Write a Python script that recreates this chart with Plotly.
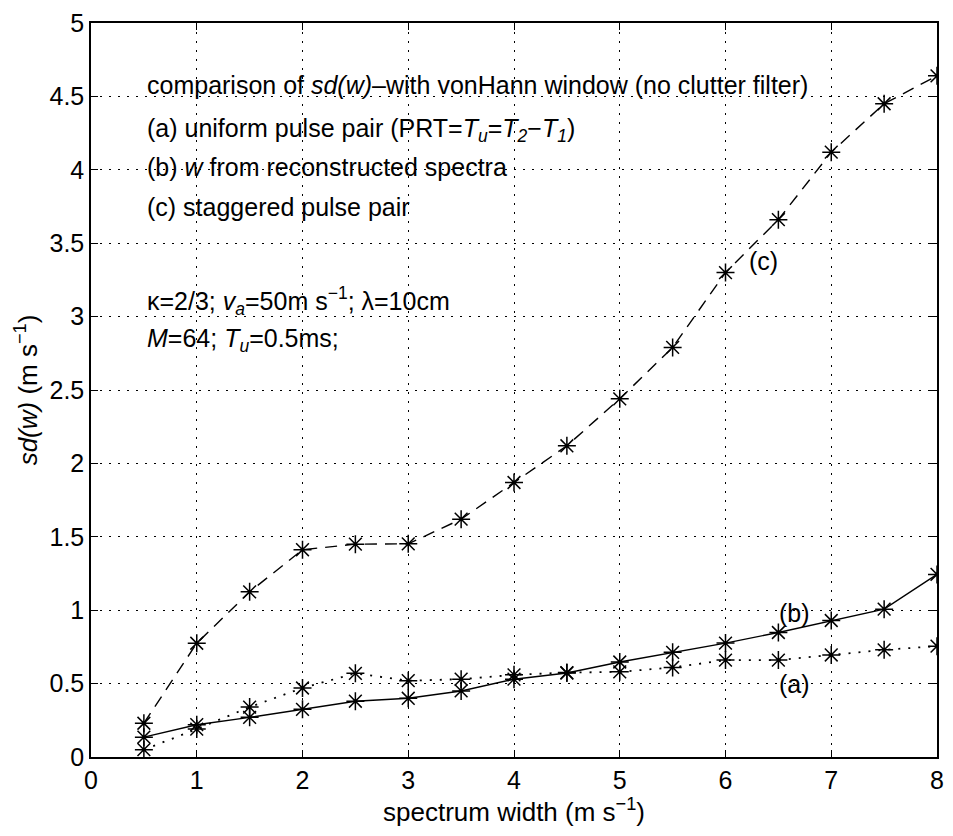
import plotly.graph_objects as go

# Spectrum width values (m s^-1)
width = [0.5, 1, 1.5, 2, 2.5, 3, 3.5, 4, 4.5, 5, 5.5, 6, 6.5, 7, 7.5, 8]

# (a) uniform pulse pair
sd_a = [0.05, 0.19, 0.34, 0.47, 0.57, 0.52, 0.53, 0.56, 0.575, 0.58, 0.61, 0.66, 0.66, 0.695, 0.73, 0.755]
# (b) w from reconstructed spectra
sd_b = [0.135, 0.22, 0.27, 0.325, 0.38, 0.40, 0.45, 0.53, 0.572, 0.647, 0.713, 0.776, 0.848, 0.93, 1.007, 1.244]
# (c) staggered pulse pair
sd_c = [0.23, 0.775, 1.125, 1.412, 1.45, 1.452, 1.62, 1.87, 2.12, 2.44, 2.79, 3.30, 3.66, 4.12, 4.45, 4.64]

x_ticks = [0, 1, 2, 3, 4, 5, 6, 7, 8]
y_ticks = [0, 0.5, 1, 1.5, 2, 2.5, 3, 3.5, 4, 4.5, 5]
y_tick_text = ["0", "0.5", "1", "1.5", "2", "2.5", "3", "3.5", "4", "4.5", "5"]

FONT = "Liberation Sans, Arial, Helvetica, sans-serif"
TXT = 25

fig = go.Figure()

marker = dict(symbol="asterisk-open", size=15, color="black", line=dict(color="black", width=1.5))

fig.add_trace(go.Scatter(x=width, y=sd_a, mode="lines+markers", name="(a)",
                         line=dict(color="black", width=1.8, dash="2px,8px"), marker=marker))
fig.add_trace(go.Scatter(x=width, y=sd_b, mode="lines+markers", name="(b)",
                         line=dict(color="black", width=1.4), marker=marker))
fig.add_trace(go.Scatter(x=width, y=sd_c, mode="lines+markers", name="(c)",
                         line=dict(color="black", width=1.4, dash="12px,8px"), marker=marker))

ann_lines = [
    (4.576, "comparison of <i>sd(w)</i>–with vonHann window (no clutter filter)"),
    (4.27, "(a) uniform pulse pair (PRT=<i>T</i><sub><i>u</i></sub>=<i>T</i><sub><i>2</i></sub>−<i>T</i><sub><i>1</i></sub>)"),
    (4.02, "(b) <i>w</i> from reconstructed spectra"),
    (3.75, "(c) staggered pulse pair"),
    (3.106, "κ=2/3; <i>v</i><sub><i>a</i></sub>=50m s<sup>−1</sup>; λ=10cm"),
    (2.84, "<i>M</i>=64; <i>T</i><sub><i>u</i></sub>=0.5ms;"),
]
annotations = []
for yv, txt in ann_lines:
    annotations.append(dict(x=0.51, y=yv, xref="x", yref="y", text=txt, showarrow=False,
                            xanchor="left", yanchor="middle",
                            font=dict(family=FONT, size=TXT, color="black")))

for xv, yv, txt in [(6.36, 3.38, "(c)"), (6.655, 0.983, "(b)"), (6.655, 0.50, "(a)")]:
    annotations.append(dict(x=xv, y=yv, xref="x", yref="y", text=txt, showarrow=False,
                            xanchor="center", yanchor="middle",
                            font=dict(family=FONT, size=TXT, color="black")))

axis_common = dict(
    showline=True, linecolor="black", linewidth=1.5, mirror="ticks",
    ticks="inside", ticklen=7, tickwidth=1, tickcolor="black",
    showgrid=True, gridcolor="black", gridwidth=1, griddash="1.5px,7.5px",
    zeroline=False,
    tickfont=dict(family=FONT, size=25, color="black"),
)

fig.update_xaxes(range=[0, 8], tickvals=x_ticks, ticktext=[str(t) for t in x_ticks],
                 title=dict(text="spectrum width (m s<sup>−1</sup>)", standoff=2,
                            font=dict(family=FONT, size=26, color="black")),
                 **axis_common)
fig.update_yaxes(range=[0, 5], tickvals=y_ticks, ticktext=y_tick_text,
                 title=dict(text="<i>sd(w)</i> (m s<sup>−1</sup>)", standoff=4,
                            font=dict(family=FONT, size=26, color="black")),
                 **axis_common)

fig.update_layout(
    width=953, height=836,
    margin=dict(l=91, r=9, t=18, b=79),
    plot_bgcolor="white", paper_bgcolor="white",
    showlegend=False,
    annotations=annotations,
    font=dict(family=FONT, color="black"),
)

fig.write_html("out.html")
